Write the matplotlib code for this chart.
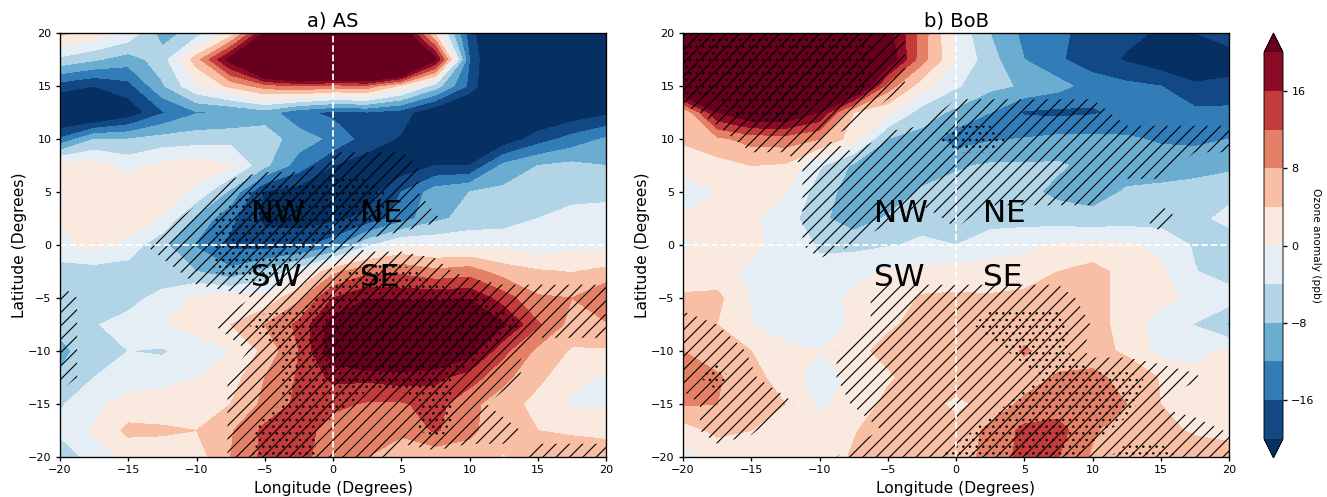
import matplotlib
matplotlib.use("Agg")
import matplotlib.pyplot as plt
import numpy as np

plt.rcParams["hatch.linewidth"] = 1.0

lon = [-20, -17.5, -15, -12.5, -10, -7.5, -5, -2.5, 0, 2.5, 5, 7.5, 10, 12.5, 15, 17.5, 20]
lat = [20, 17.5, 15, 12.5, 10, 7.5, 5, 2.5, 0, -2.5, -5, -7.5, -10, -12.5, -15, -17.5, -20]

# ozone anomaly (ppb), rows run from 20N down to 20S
ozone_as = [
    [5, 2.5, -1, -10, -6, 1, 20.5, 35, 40, 40, 25, 3, -18, -30, -30, -30, -30],
    [-5, -7.5, -10, -6, 6, 22, 45, 55, 60, 60, 50, 21, -16, -30, -30, -30, -30],
    [-18, -20, -17.5, -8.5, -0.5, 5, 10, 12, 10, 10.5, 3, -6, -17, -30, -30, -30, -28],
    [-27, -28, -23, -16.5, -12.3, -12, -10, -15, -17, -16.5, -18, -24, -28, -28, -25, -23, -21],
    [-15.5, -8, -8, -6.5, -6, -5.5, -6, -10, -13, -18, -20.5, -24, -25, -23, -18, -14.5, -11.5],
    [2, 1.5, -1.5, 1, 2, 0.5, -7, -14, -20, -22, -23, -20, -20, -11, -8, -7, -8],
    [-0.5, 2.5, 2.5, 2.5, -1, -9, -20.5, -22, -22, -22, -16, -10, -8, -7, -6, -5.5, -5],
    [1, 3, 3, -0.5, -9, -15, -21, -22, -21, -19, -14, -9, -6.5, -6, -4, -2.5, -2.5],
    [-1.5, 1.5, -1.5, -7, -12.5, -17, -18, -17, -14, -5, 0, -1, -1, -1, -3, -1, -1],
    [-5.5, -6, -6, -6, -8, -11, -7, -2, 7, 11, 11, 9, 10, 6, 4.5, 3.8, 5],
    [-6, -6, -5, -3, 1, 1.5, 1, 7, 16, 19.5, 19, 19, 19.5, 14, 8.5, 8, 12],
    [-7, -4.2, -3, -0.2, 1.5, 4, 8, 13, 22, 30, 30, 30, 28, 20.5, 12.5, 6.5, 7.5],
    [-9, -6, -4, -4.5, -2, -0.2, 5, 12, 23, 28, 28, 27, 22, 13, 7, 3.5, 3.5],
    [-7.5, -4, -2, -1.5, 0, 2, 8, 12.5, 17, 17, 18, 17, 14, 9, 5, 1, -0.5],
    [-4.5, -1, 1.5, 2, 3, 4, 9, 13, 13, 11.5, 11.5, 13.5, 9, 6, 2.5, -0.5, -0.5],
    [-3, 0.5, 5, 4.5, 4, 7.5, 13, 14, 10, 9, 9, 12.5, 9, 5, 4, 3, 3],
    [-7, -2, 1, 2, 2, 8, 13, 13.5, 9.5, 8, 5, 5, 6, 3.8, 6, 8, 6],
]

ozone_bob = [
    [30, 40, 40, 40, 40, 40, 22, 10, -1, -8, -13, -15, -18, -19, -20.5, -20, -18],
    [30, 40, 40, 40, 40, 35, 24, 9.5, 0, -6.5, -12, -15.5, -18, -20.5, -23, -23, -22],
    [30, 40, 40, 40, 40, 30, 10, 2, -3.5, -7, -8.5, -10.5, -14, -15, -16, -19.5, -19],
    [4, 20, 25, 25, 20, 4, 1, -6, -9, -12, -16.5, -17, -16.5, -15, -15, -15, -15],
    [4.5, 7, 9.5, 10, 8, 2, -8.1, -9.5, -14, -12.5, -11.8, -11, -11, -11.5, -12.5, -13, -12],
    [2, 2.5, 4, 3.5, -3.5, -8.7, -10.5, -10, -8.5, -7.5, -7.5, -7.5, -9.2, -10, -10, -9.5, -9],
    [-2.5, 0, 2, 0.3, -6, -10, -10.5, -7.5, -6.5, -7, -7, -9, -10, -7.5, -7, -6.5, -5],
    [0.5, 2, 0.5, -2, -7, -10.5, -7.5, -5, -5.5, -5.5, -5.5, -6, -6.5, -6, -5.8, -5, -3],
    [-0.5, 1, 1, -1.5, -4.5, -5, -4.3, -3.5, -4, -2, -1, 0.5, 1, 0.6, -1, -4.5, -6],
    [2, 1.5, -1, -3, -3, -1.5, 0.5, 1, 1.5, 1.5, 2, 4, 5.5, 2.5, 0.8, -3.8, -6],
    [4.5, 5, -0.3, -2, -2, 1, 1, 4.5, 4.7, 4.5, 5, 5.5, 5.5, 2.5, 1.2, -1, -2],
    [6.5, 4, 0.2, -2, -1.3, 0.3, 3.5, 5, 6, 5, 6, 8, 5.5, 2.5, -2, -4.2, -8.5],
    [8, 6, 4, 1, 0, 3, 5, 6.5, 6.3, 5, 8.5, 6, 5, 3.5, -1.5, -0.5, 0.5],
    [10.5, 8.5, 5.5, 2, -2, 1, 3.5, 5.5, 6.2, 5, 6, 8.5, 9.5, 6, 3.8, 0.5, 1],
    [8.5, 8, 4.8, 4, -0.7, 1.5, 5, 6, 3, 5.5, 9, 10, 10.5, 8, 4, 1.5, 1],
    [2, 5, 4, 1, 1, 3.7, 6, 6, 5.5, 9, 13, 13.5, 8.5, 6, 5, 3.5, 1.5],
    [-1.5, 1, 1.5, 1.5, 1.5, 4.5, 5, 6, 6.5, 9, 13.5, 12, 7.5, 5, 8, 6, 7.5],
]

# significance: above 0.5 is hatched, above 1.5 is dotted as well
sig_as = [
    [0] * 17,
    [0] * 17,
    [0] * 17,
    [0] * 17,
    [0] * 17,
    [0, 0, 0, 0, 0, 0, 0, 0, 1, 1, 1, 0, 0, 0, 0, 0, 0],
    [0, 0, 0, 0, 0, 1, 2, 2, 2, 2, 1, 0, 0, 0, 0, 0, 0],
    [0, 0, 0, 0, 1, 2, 2, 2, 2, 2, 1, 0.6, 0, 0, 0, 0, 0],
    [0, 0, 0, 1, 1, 2, 2, 2, 1, 0, 0, 0, 0, 0, 0, 0, 0],
    [0, 0, 0, 0, 1, 2, 2, 1, 1, 2, 2, 1, 0, 0, 0, 0, 0],
    [1, 0, 0, 0, 0, 0, 0.8, 1, 2, 2, 2, 2, 2, 1, 1, 1, 1],
    [1, 0, 0, 0, 0, 1, 2, 2, 2, 2, 2, 2, 2, 2, 1, 1, 1],
    [1, 0, 0, 0, 0, 0, 1, 2, 2, 2, 2, 2, 2, 1, 0, 0, 0],
    [1, 0, 0, 0, 0, 0.55, 1, 2, 2, 2, 2, 2, 1, 1, 0, 0, 0],
    [0, 0, 0, 0, 0, 0.55, 1, 2, 2, 1, 1, 2, 1, 0, 0, 0, 0],
    [0, 0, 0, 0, 0, 0.55, 2, 2, 1, 1, 1, 2, 1, 1, 0, 0, 0],
    [0, 0, 0, 0, 0, 0.55, 2, 2, 1, 1, 0, 0, 0, 0, 1, 1, 1],
]

sig_bob = [
    [1, 2, 2, 2, 2, 2, 1, 0, 0, 0, 0, 0, 0, 0, 0, 0, 0],
    [2, 2, 2, 2, 2, 2, 1, 0, 0, 0, 0, 0, 0, 0, 0, 0, 0],
    [2, 2, 2, 2, 2, 2, 1, 0, 0, 0, 0, 0, 0, 0, 0, 0, 0],
    [0, 1, 2, 2, 1, 1, 0, 0, 1, 1, 1, 1, 1, 0, 0, 0, 0],
    [0, 0, 1, 1, 0.6, 0, 0.7, 1, 2, 2, 1, 1, 1, 1, 1, 1, 1],
    [0, 0, 0, 0, 1, 1, 1, 1, 1, 1, 1, 1, 1, 1, 1, 0, 0],
    [0, 0, 0, 0, 1, 1, 1, 1, 1, 1, 1, 1, 1, 0, 0, 0, 0],
    [0, 0, 0, 0, 1, 1, 0.6, 0, 0.8, 0, 0, 0, 0, 0, 1, 0, 0],
    [0, 0, 0, 0, 1, 0.5, 0, 0, 0, 0, 0, 0, 0, 0, 0, 0, 0],
    [0] * 17,
    [0, 0, 0, 0, 0, 0, 1, 1, 1, 1, 1, 1, 0, 0, 0, 0, 0],
    [1, 0.5, 0, 0, 0, 0, 1, 1, 1, 2, 2, 2, 0.4, 0, 0, 0, 0],
    [1, 1, 0.4, 0, 0, 1, 1, 1, 1, 1, 2, 2, 0, 0, 0, 0, 0],
    [1, 2, 0.6, 0, 0, 1, 1, 1, 1, 1, 1, 2, 2, 2, 1, 0.6, 0],
    [0, 1, 1, 0.7, 0, 0.55, 1, 1, 1, 1, 2, 2, 2, 2, 0.4, 0, 0],
    [0, 1, 0.6, 0, 0, 0, 0.6, 1, 1, 2, 2, 2, 2, 1, 1, 1, 0.4],
    [0, 0, 0, 0, 0, 1, 1, 1, 2, 2, 2, 2, 1, 2, 2, 1, 1],
]

levels = np.arange(-20, 21, 4)
cbar_ticks = [-16, -8, 0, 8, 16]
x_ticks = [-20, -15, -10, -5, 0, 5, 10, 15, 20]
y_ticks = [-20, -15, -10, -5, 0, 5, 10, 15, 20]

W, H, DPI = 1327, 497, 80


def px_axes(fig, left, top, right, bottom):
    return fig.add_axes([left / W, 1 - bottom / H, (right - left) / W, (bottom - top) / H])


def draw_panel(ax, values, sig, title):
    cs = ax.contourf(lon, lat, np.array(values), levels=levels, cmap="RdBu_r", extend="both")
    sig = np.array(sig)
    ax.contourf(lon, lat, sig, levels=[0.5, 3], colors="none", hatches=["//"])
    ax.contourf(lon, lat, sig, levels=[1.5, 3], colors="none", hatches=[".."])
    ax.axvline(0, color="white", ls="--", lw=1.6)
    ax.axhline(0, color="white", ls="--", lw=1.6)
    for label, x, y in [("NW", -6, 2.2), ("NE", 2, 2.2), ("SW", -6, -3.9), ("SE", 2, -3.9)]:
        ax.text(x, y, label, fontsize=28, color="black")
    ax.set_xlim(-20, 20)
    ax.set_ylim(-20, 20)
    ax.set_xticks(x_ticks)
    ax.set_yticks(y_ticks)
    ax.tick_params(labelsize=10, width=1.2, length=4)
    for spine in ax.spines.values():
        spine.set_linewidth(1.2)
    ax.set_title(title, fontsize=17.5, pad=6)
    ax.set_xlabel("Longitude (Degrees)", fontsize=14, labelpad=5)
    ax.set_ylabel("Latitude (Degrees)", fontsize=14, labelpad=1)
    return cs


fig = plt.figure(figsize=(W / DPI, H / DPI), dpi=DPI)
ax1 = px_axes(fig, 60, 33, 606, 457)
ax2 = px_axes(fig, 683, 33, 1229, 457)
cs = draw_panel(ax1, ozone_as, sig_as, "a) AS")
draw_panel(ax2, ozone_bob, sig_bob, "b) BoB")

cax = px_axes(fig, 1264, 33, 1283, 458)
cbar = fig.colorbar(cs, cax=cax, ticks=cbar_ticks)
cbar.ax.tick_params(labelsize=10, width=1.2, length=4)
cbar.set_label("Ozone anomaly (ppb)", rotation=270, fontsize=9.5, labelpad=6)

fig.savefig("out.png", dpi=DPI)
